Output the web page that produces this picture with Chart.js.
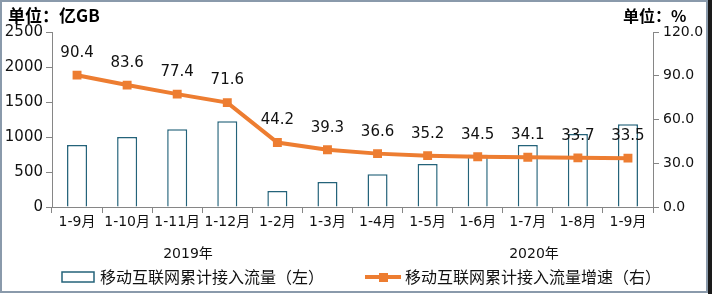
<!DOCTYPE html>
<html>
<head>
<meta charset="utf-8">
<script src="https://cdn.jsdelivr.net/npm/chart.js@4"></script>
<style>
  html, body { margin: 0; padding: 0; background: #fff; }
  #wrap { width: 712px; height: 294px; position: relative; }
</style>
</head>
<body>
<div id="wrap"><canvas id="c" width="712" height="294"></canvas></div>
<script>
const categories = ['1-9月','1-10月','1-11月','1-12月','1-2月','1-3月','1-4月','1-5月','1-6月','1-7月','1-8月','1-9月'];
const trafficValues = [886, 1000, 1110, 1224, 229, 357, 467, 614, 745, 886, 1043, 1181];
const growthValues = [90.4, 83.6, 77.4, 71.6, 44.2, 39.3, 36.6, 35.2, 34.5, 34.1, 33.7, 33.5];
const leftTicks = [0, 500, 1000, 1500, 2000, 2500];
const rightTicks = [0, 30, 60, 90, 120];
const yearLabels = ['2019年', '2020年'];
const seriesNames = ['移动互联网累计接入流量（左）', '移动互联网累计接入流量增速（右）'];
const unitLeft = '单位：亿GB';
const unitRight = '单位：%';

const BAR_COLOR = '#24637A';
const ORANGE = '#ED7D31';
const AXIS = '#868686';
const NUM_FONT = 'DejaVu Sans, "Noto Sans CJK SC", sans-serif';
const CJK_FONT = '"Noto Sans CJK SC", sans-serif';

const decorPlugin = {
  id: 'decor',
  afterDatasetsDraw(chart) {
    const ctx = chart.ctx;
    const meta = chart.getDatasetMeta(1);
    ctx.save();
    ctx.font = '15px ' + NUM_FONT;
    ctx.fillStyle = '#111';
    ctx.textAlign = 'center';
    ctx.textBaseline = 'middle';
    meta.data.forEach((pt, i) => {
      ctx.fillText(growthValues[i].toFixed(1), pt.x, pt.y - 22);
    });
    ctx.restore();
  },
  afterDraw(chart) {
    const ctx = chart.ctx;
    ctx.save();
    ctx.fillStyle = '#000';
    ctx.textBaseline = 'middle';
    ctx.textAlign = 'left';
    ctx.font = 'bold 17px ' + CJK_FONT;
    ctx.fillText(unitLeft, 8, 16);
    ctx.font = 'bold 16px ' + CJK_FONT;
    ctx.fillText(unitRight, 623, 16);
    ctx.font = '14px ' + NUM_FONT;
    ctx.textAlign = 'center';
    ctx.fillStyle = '#111';
    ctx.fillText(yearLabels[0], 188, 254);
    ctx.fillText(yearLabels[1], 534, 254);
    ctx.fillStyle = '#fff';
    ctx.fillRect(62, 272, 32, 10);
    ctx.strokeStyle = BAR_COLOR;
    ctx.lineWidth = 1.5;
    ctx.strokeRect(62, 272, 32, 10);
    ctx.fillStyle = '#111';
    ctx.textAlign = 'left';
    ctx.font = '16px ' + CJK_FONT;
    ctx.fillText(seriesNames[0], 100, 277);
    ctx.strokeStyle = ORANGE;
    ctx.lineWidth = 4;
    ctx.beginPath();
    ctx.moveTo(365, 277);
    ctx.lineTo(401, 277);
    ctx.stroke();
    ctx.fillStyle = ORANGE;
    ctx.fillRect(379, 273, 9, 9);
    ctx.fillStyle = '#111';
    ctx.fillText(seriesNames[1], 405, 277);
    ctx.strokeStyle = '#8A9AAB';
    ctx.lineWidth = 2;
    ctx.strokeRect(1, 1, 706, 291);
    ctx.fillStyle = '#1a1a1a';
    ctx.fillRect(708, 0, 4, 294);
    ctx.restore();
  }
};

new Chart(document.getElementById('c'), {
  data: {
    labels: categories,
    datasets: [
      {
        type: 'bar',
        label: seriesNames[0],
        data: trafficValues,
        yAxisID: 'y',
        backgroundColor: '#fff',
        borderColor: BAR_COLOR,
        borderWidth: 1.5,
        barPercentage: 0.4,
        categoryPercentage: 1.0,
        order: 2
      },
      {
        type: 'line',
        label: seriesNames[1],
        data: growthValues,
        yAxisID: 'y1',
        borderColor: ORANGE,
        backgroundColor: ORANGE,
        borderWidth: 4,
        pointStyle: 'rect',
        pointRadius: 6.3,
        pointBorderWidth: 0,
        tension: 0,
        order: 1
      }
    ]
  },
  options: {
    responsive: false,
    animation: false,
    devicePixelRatio: 1,
    layout: { padding: { top: 32, bottom: 57, left: 0, right: 0 } },
    plugins: { legend: { display: false }, tooltip: { enabled: false }, title: { display: false } },
    scales: {
      x: {
        offset: true,
        grid: { offset: true, drawOnChartArea: false, drawTicks: true, tickLength: 6, color: AXIS, lineWidth: 1 },
        border: { color: AXIS, width: 1 },
        ticks: { font: { size: 14, family: NUM_FONT }, color: '#111', padding: 1, maxRotation: 0, autoSkip: false },
        afterFit(s) { s.height = 30; }
      },
      y: {
        position: 'left',
        min: 0, max: 2500,
        afterBuildTicks(s) { s.ticks = leftTicks.map(v => ({ value: v })); },
        grid: { drawOnChartArea: false, drawTicks: true, tickLength: 6, color: AXIS },
        border: { color: AXIS, width: 1 },
        ticks: { font: { size: 15, family: NUM_FONT }, color: '#111', padding: 3, callback: v => String(v) },
        afterFit(s) { s.width = 52; }
      },
      y1: {
        position: 'right',
        min: 0, max: 120,
        afterBuildTicks(s) { s.ticks = rightTicks.map(v => ({ value: v })); },
        grid: { drawOnChartArea: false, drawTicks: true, tickLength: 6, color: AXIS },
        border: { color: AXIS, width: 1 },
        ticks: { font: { size: 14, family: NUM_FONT }, color: '#111', padding: 4, callback: v => Number(v).toFixed(1) },
        afterFit(s) { s.width = 59; }
      }
    }
  },
  plugins: [decorPlugin]
});
</script>
</body>
</html>
